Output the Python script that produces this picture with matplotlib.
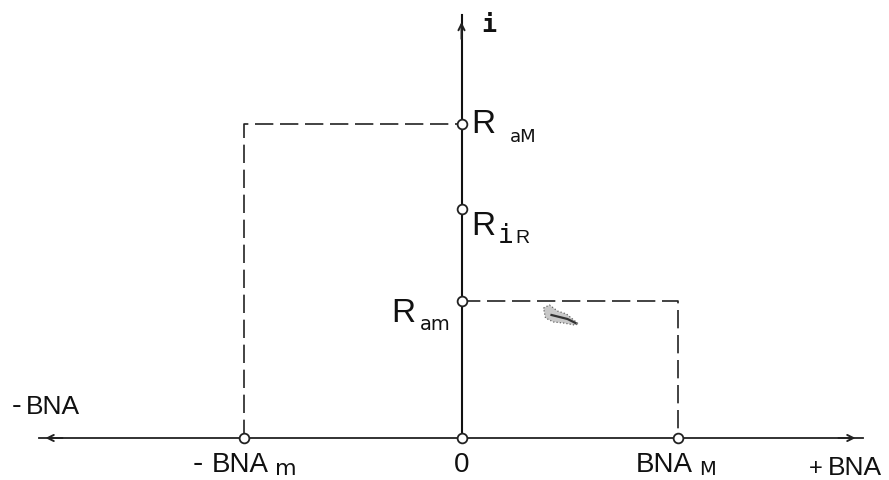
import matplotlib
matplotlib.use("Agg")
import matplotlib.pyplot as plt

# values, in pixels from the origin
bna_min = -218
bna_max = 216
r_am = 137
r_ir = 229
r_am_big = 314

x_axis_left = -423
x_axis_right = 401
y_axis_top = 423

# small pen smudge in the diagram
smudge_x = [82, 88, 96, 105, 117, 113, 102, 92, 84, 82]
smudge_y = [130, 133, 127, 124, 114, 113, 115, 116, 120, 130]
smudge_core_x = [90, 98, 106, 114]
smudge_core_y = [123, 121, 119, 115]

# text, x, baseline y, size, family
labels = [
    ("R", 10, 305, 24, "Liberation Sans"),
    ("aM", 48, 296, 13, "DejaVu Sans"),
    ("R", 10, 203, 24, "Liberation Sans"),
    ("i", 36, 195, 19, "DejaVu Sans Mono"),
    ("R", 54, 195, 14, "Liberation Sans"),
    ("R", -70, 116, 24, "Liberation Sans"),
    ("am", -42, 108, 14, "DejaVu Sans"),
    ("-", -450, 24, 21, "Liberation Sans"),
    ("BNA", -436, 24, 19, "Liberation Sans"),
    ("-", -269, -34, 22, "Liberation Sans"),
    ("BNA", -250, -34, 20, "Liberation Sans"),
    ("0", -8, -34, 20, "Liberation Sans"),
    ("BNA", 174, -34, 20, "Liberation Sans"),
    ("+", 347, -37, 17, "Liberation Sans"),
    ("BNA", 366, -37, 19, "Liberation Sans"),
    ("m", -187, -37, 16, "DejaVu Sans"),
    ("M", 238, -37, 14, "DejaVu Sans"),
]

fig = plt.figure(figsize=(8.89, 4.80), dpi=100)
ax = fig.add_axes([0, 0, 1, 1])
ax.set_xlim(-461.5, 427.5)
ax.set_ylim(-42, 438)
ax.axis("off")

# axes
ax.plot([x_axis_left, x_axis_right], [0, 0], color="#222222", lw=1.3, zorder=2)
ax.plot([0, 0], [0, y_axis_top], color="#111111", lw=1.5, zorder=2)

# arrow heads sit a little inside the line ends
head = dict(arrowstyle="->", color="#222222", lw=1.4, mutation_scale=11, shrinkA=0, shrinkB=0)
ax.annotate("", xy=(x_axis_left + 7, 0), xytext=(x_axis_left + 24, 0), arrowprops=head)
ax.annotate("", xy=(x_axis_right - 7, 0), xytext=(x_axis_right - 24, 0), arrowprops=head)
ax.annotate("", xy=(0, y_axis_top - 7), xytext=(0, y_axis_top - 24), arrowprops=head)

# dashed guides
dash = (0, (11, 4))
ax.plot([bna_min, bna_min, 0], [0, r_am_big, r_am_big], color="#222222", lw=1.2, ls=dash, zorder=1)
ax.plot([0, bna_max, bna_max], [r_am, r_am, 0], color="#222222", lw=1.2, ls=dash, zorder=1)

# open circles
ax.plot([bna_min, 0, bna_max, 0, 0, 0], [0, 0, 0, r_am, r_ir, r_am_big], ls="none", marker="o",
        ms=7, mfc="white", mec="#222222", mew=1.3, zorder=3)

# smudge
ax.fill(smudge_x, smudge_y, facecolor="#c8c8c8", edgecolor="#666666", lw=0.9, ls=":", zorder=2)
ax.plot(smudge_core_x, smudge_core_y, color="#333333", lw=1.6, zorder=2)

for s, x, y, size, fam in labels:
    ax.text(x, y, s, fontsize=size, family=fam, color="#111111", va="baseline")
ax.text(20, 406, "i", fontsize=18, family="DejaVu Sans Mono", weight="bold", color="#111111", va="baseline")

fig.savefig("out.png", dpi=100)
